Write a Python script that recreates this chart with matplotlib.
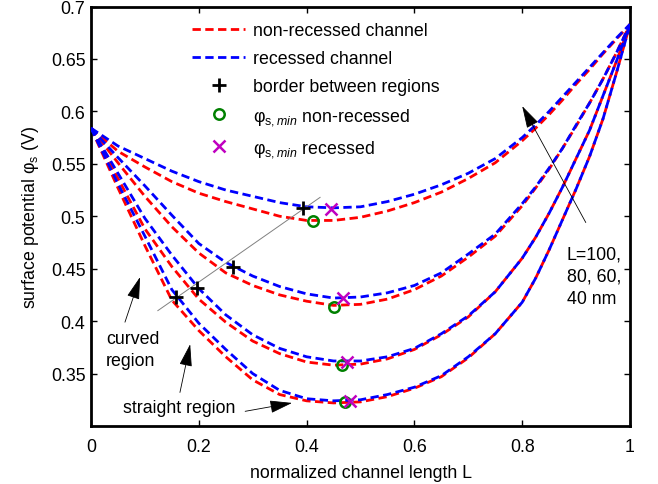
import matplotlib
matplotlib.use('Agg')
import matplotlib.pyplot as plt

plt.rcParams['font.family'] = ['Liberation Sans', 'DejaVu Sans']
plt.rcParams['mathtext.fontset'] = 'custom'
plt.rcParams['mathtext.rm'] = 'Liberation Sans'
plt.rcParams['mathtext.it'] = 'Liberation Sans:italic'
plt.rcParams['mathtext.bf'] = 'Liberation Sans:bold'

# ---------------- data ----------------
L = [0.0, 0.05, 0.1, 0.15, 0.2, 0.25, 0.3, 0.35, 0.4, 0.45, 0.5,
     0.55, 0.6, 0.65, 0.7, 0.75, 0.8, 0.825, 0.85, 0.875, 0.9, 0.925, 0.95, 0.975, 1.0]

# non-recessed channel (red), four channel lengths
nonrec_1 = [0.584, 0.562, 0.547, 0.533, 0.522, 0.514, 0.507, 0.500, 0.496, 0.496, 0.499,
            0.505, 0.513, 0.523, 0.536, 0.551, 0.572, 0.584, 0.597, 0.611, 0.626, 0.640,
            0.655, 0.669, 0.683]
nonrec_2 = [0.584, 0.551, 0.519, 0.490, 0.465, 0.446, 0.434, 0.425, 0.419, 0.415, 0.416,
            0.421, 0.430, 0.443, 0.461, 0.481, 0.510, 0.527, 0.545, 0.565, 0.586, 0.608,
            0.631, 0.656, 0.683]
nonrec_3 = [0.584, 0.536, 0.488, 0.452, 0.421, 0.399, 0.381, 0.369, 0.361, 0.358, 0.359,
            0.364, 0.373, 0.387, 0.404, 0.428, 0.460, 0.480, 0.503, 0.528, 0.555, 0.582,
            0.615, 0.648, 0.683]
nonrec_4 = [0.584, 0.527, 0.472, 0.420, 0.391, 0.366, 0.344, 0.330, 0.324, 0.322, 0.323,
            0.328, 0.336, 0.347, 0.365, 0.388, 0.418, 0.441, 0.468, 0.497, 0.526, 0.557,
            0.593, 0.637, 0.683]

# recessed channel (blue)
rec_1 = [0.584, 0.567, 0.555, 0.543, 0.533, 0.525, 0.519, 0.513, 0.509, 0.508, 0.509,
         0.514, 0.521, 0.530, 0.541, 0.555, 0.575, 0.587, 0.600, 0.614, 0.628, 0.642,
         0.656, 0.670, 0.683]
rec_2 = [0.584, 0.556, 0.529, 0.501, 0.474, 0.456, 0.443, 0.433, 0.426, 0.422, 0.423,
         0.427, 0.434, 0.446, 0.464, 0.483, 0.512, 0.528, 0.546, 0.565, 0.587, 0.608,
         0.631, 0.656, 0.683]
rec_3 = [0.584, 0.541, 0.498, 0.463, 0.431, 0.406, 0.387, 0.374, 0.366, 0.362, 0.362,
         0.366, 0.374, 0.388, 0.405, 0.428, 0.460, 0.480, 0.503, 0.528, 0.555, 0.582,
         0.615, 0.648, 0.683]
rec_4 = [0.584, 0.531, 0.481, 0.430, 0.398, 0.373, 0.350, 0.334, 0.326, 0.324, 0.325,
         0.330, 0.337, 0.348, 0.366, 0.388, 0.418, 0.441, 0.468, 0.497, 0.526, 0.557,
         0.593, 0.637, 0.683]

# border between regions
border_L = [0.393, 0.263, 0.197, 0.158]
border_phi = [0.508, 0.452, 0.432, 0.423]
# minimum of surface potential, non-recessed
min_nonrec_L = [0.412, 0.451, 0.466, 0.471]
min_nonrec_phi = [0.495, 0.413, 0.358, 0.323]
# minimum of surface potential, recessed
min_rec_L = [0.445, 0.467, 0.475, 0.480]
min_rec_phi = [0.507, 0.422, 0.361, 0.324]

x_ticks = [0, 0.2, 0.4, 0.6, 0.8, 1.0]
x_ticklabels = ['0', '0.2', '0.4', '0.6', '0.8', '1']
y_ticks = [0.35, 0.4, 0.45, 0.5, 0.55, 0.6, 0.65, 0.7]
y_ticklabels = ['0.35', '0.4', '0.45', '0.5', '0.55', '0.6', '0.65', '0.7']

# annotation geometry (data coords)
guide_L = [0.124, 0.425]
guide_phi = [0.410, 0.518]
arrows = [  # (tail, tip)
    ((0.063, 0.399), (0.091, 0.442)),
    ((0.165, 0.332), (0.184, 0.378)),
    ((0.286, 0.314), (0.373, 0.322)),
    ((0.918, 0.494), (0.800, 0.605)),
]

# ---------------- figure ----------------
FS = 12.8
W, H = 658, 485
fig = plt.figure(figsize=(W / 100, H / 100), dpi=100)
ax = fig.add_axes([91 / W, 1 - 427 / H, (630 - 91) / W, (427 - 7.5) / H])

dash = (3.0, 1.6)
lw = 2.0
reds = [nonrec_1, nonrec_2, nonrec_3, nonrec_4]
blues = [rec_1, rec_2, rec_3, rec_4]
for i, (r, b) in enumerate(zip(reds, blues)):
    ax.plot(L, r, color='#ff0000', lw=lw, dashes=dash, zorder=2,
            label='non-recessed channel' if i == 0 else None)
    ax.plot(L, b, color='#0000ff', lw=lw, dashes=dash, zorder=3,
            label='recessed channel' if i == 0 else None)

ax.plot(guide_L, guide_phi, color='#808080', lw=0.7, zorder=4)

ax.plot(border_L, border_phi, ls='none', marker='+', color='k', ms=10, mew=2,
        zorder=5, label='border between regions')
ax.plot(min_nonrec_L, min_nonrec_phi, ls='none', marker='o', mfc='none',
        mec='#008000', ms=7.5, mew=1.8, zorder=5,
        label=r'φ$_{\mathrm{s,}min}$ non-recessed')
ax.plot(min_rec_L, min_rec_phi, ls='none', marker='x', color='#c000c0', ms=9, mew=1.8,
        zorder=6, label=r'φ$_{\mathrm{s,}min}$ recessed')

for tail, tip in arrows:
    ax.annotate('', xy=tip, xytext=tail,
                arrowprops=dict(arrowstyle='-|>,head_length=0.7,head_width=0.2',
                                color='k', lw=0.6, shrinkA=0, shrinkB=0,
                                mutation_scale=20), zorder=7)

ax.text(0.028, 0.373, 'curved\nregion', fontsize=FS, ha='left', va='center',
        linespacing=1.45)
ax.text(0.059, 0.318, 'straight region', fontsize=FS, ha='left', va='center')
ax.text(0.883, 0.443, 'L=100,\n80, 60,\n40 nm', fontsize=FS, ha='left', va='center',
        linespacing=1.4)

ax.set_xlim(0, 1)
ax.set_ylim(0.3, 0.7)
ax.set_xticks(x_ticks)
ax.set_xticklabels(x_ticklabels)
ax.set_yticks(y_ticks)
ax.set_yticklabels(y_ticklabels)
ax.tick_params(direction='in', top=True, right=True, length=4, width=1,
               labelsize=FS)
ax.tick_params(axis='x', pad=9)
ax.tick_params(axis='y', pad=4)
for s in ax.spines.values():
    s.set_linewidth(2.0)

ax.set_xlabel('normalized channel length L', fontsize=FS, labelpad=6)
ax.set_ylabel(r'surface potential φ$_\mathrm{s}$ (V)', fontsize=FS, labelpad=7)

leg = ax.legend(loc='upper left', bbox_to_anchor=(192 / W, 1 - 23 / H),
                bbox_transform=fig.transFigure, frameon=False, fontsize=FS,
                handlelength=3.0, handletextpad=0.45, labelspacing=0.62,
                borderpad=0, borderaxespad=0)

fig.savefig('out.png', dpi=100)
